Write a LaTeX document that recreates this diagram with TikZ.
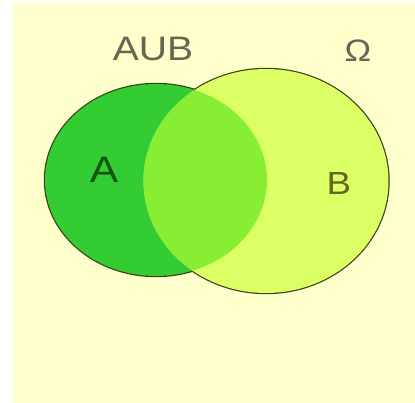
\documentclass[tikz,border=0pt]{standalone}
\usepackage{fontspec}
\setmainfont{Liberation Sans}
\definecolor{bgcream}{HTML}{FFFFCC}
\definecolor{setA}{HTML}{33CC33}
\definecolor{setB}{HTML}{DDFF66}
\definecolor{setAB}{HTML}{88EE33}
\definecolor{rimcol}{HTML}{334411}
\definecolor{labgray}{HTML}{666655}
\definecolor{labA}{HTML}{115511}
\definecolor{labB}{HTML}{666622}
\tikzset{
  setlabel/.style={inner sep=0pt, font=\fontsize{34}{34}\selectfont, xscale=1.15},
  rim/.style={draw=rimcol, line width=2.4pt}
}
\begin{document}
\begin{tikzpicture}[x=1pt,y=-1pt]
\useasboundingbox (0,0) rectangle (415,403);
\fill[white] (0,0) rectangle (415,403);
\fill[bgcream] (13,3) rectangle (415,403);
% outlines (inner halves covered by fills)
\draw[rim] (156,180) ellipse [x radius=111, y radius=96];
\draw[rim] (266,181) ellipse [x radius=122.5, y radius=112];
\fill[setA] (156,180) ellipse [x radius=111, y radius=96];
\fill[setB] (266,181) ellipse [x radius=122.5, y radius=112];
\begin{scope}
  \clip (156,180) ellipse [x radius=111, y radius=96];
  \fill[setAB] (266,181) ellipse [x radius=122.5, y radius=112];
\end{scope}
\node[setlabel, text=labgray] (union) at (153,49) {AUB};
\node[setlabel, text=labgray, font=\fontsize{31}{31}\selectfont] (omega) at (358,51) {Ω};
\node[setlabel, text=labA, font=\fontsize{37}{37}\selectfont] (la) at (104,170) {A};
\node[setlabel, text=labB, font=\fontsize{32}{32}\selectfont] (lb) at (339,183) {B};
\end{tikzpicture}
\end{document}
